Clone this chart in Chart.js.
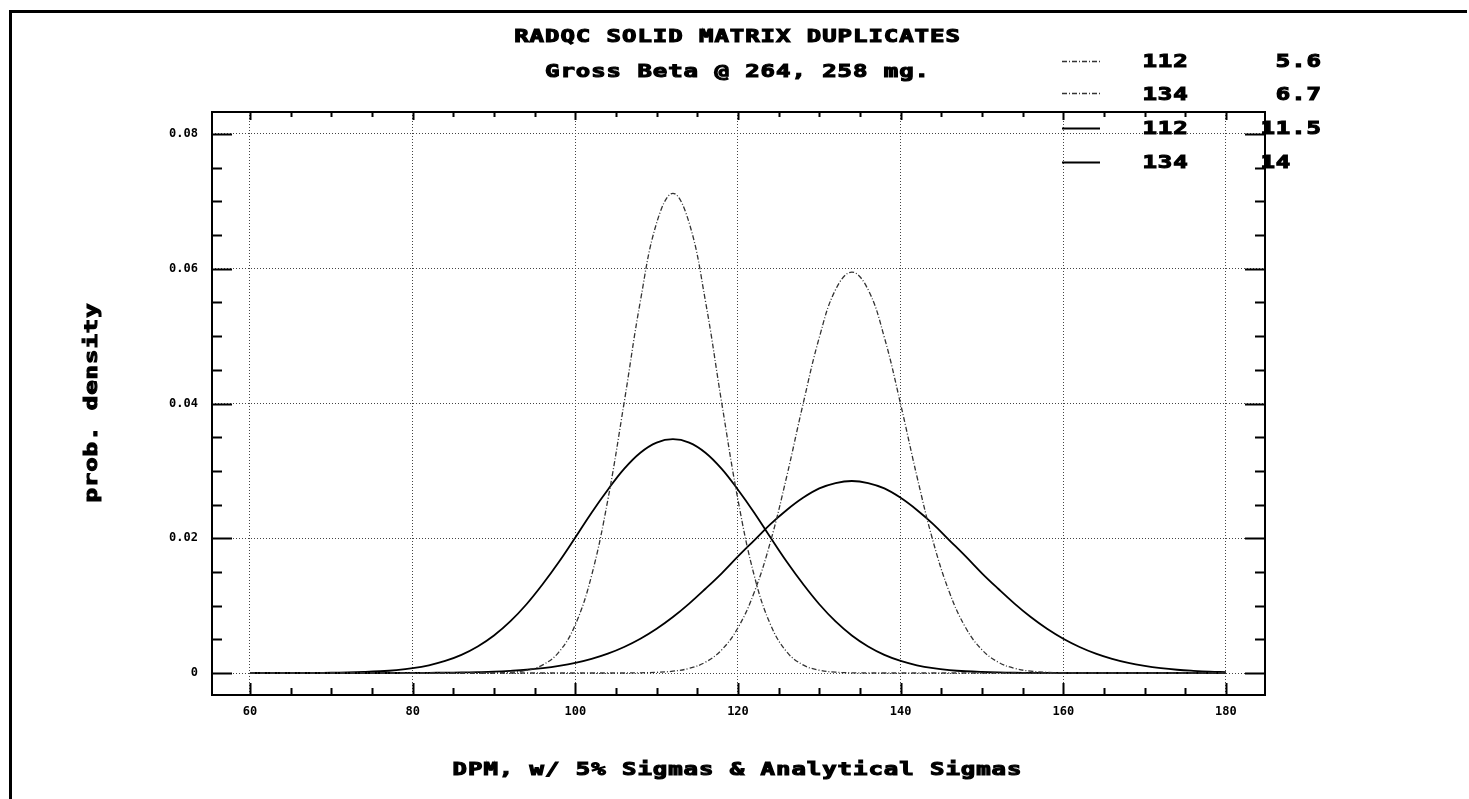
<!DOCTYPE html>
<html>
<head>
<meta charset="utf-8">
<script src="https://cdn.jsdelivr.net/npm/chart.js@4.4.0/dist/chart.umd.min.js"></script>
<style>
html, body { margin: 0; padding: 0; background: #fff; }
canvas { display: block; }
</style>
</head>
<body>
<canvas id="chart" width="1469" height="799"></canvas>
<script>
// x values (DPM)
const dpm = [60, 62, 64, 66, 68, 70, 72, 74, 76, 78, 80, 82, 84, 86, 88, 90, 92, 94, 96, 98,
  100, 102, 104, 106, 108, 110, 112, 114, 116, 118, 120, 122, 124, 126, 128, 130, 132, 134, 136, 138,
  140, 142, 144, 146, 148, 150, 152, 154, 156, 158, 160, 162, 164, 166, 168, 170, 172, 174, 176, 178, 180];

// prob. density
const narrow112 = [0, 0, 0, 0, 0, 0, 0, 0, 0, 0, 0, 0, 0, 0, 0,
  0.00003, 0.00012, 0.00041, 0.0012, 0.00313, 0.00717, 0.01446, 0.0257, 0.0401, 0.0552, 0.0668, 0.0712,
  0.0668, 0.0552, 0.0401, 0.0257, 0.01446, 0.00717, 0.00313, 0.0012, 0.00041, 0.00012, 0.00003,
  0, 0, 0, 0, 0, 0, 0, 0, 0, 0, 0, 0, 0, 0, 0, 0, 0, 0, 0, 0, 0, 0, 0];
const narrow134 = [0, 0, 0, 0, 0, 0, 0, 0, 0, 0, 0, 0, 0, 0, 0, 0, 0, 0, 0, 0, 0, 0, 0, 0,
  0.00003, 0.0001, 0.00027, 0.00069, 0.00161, 0.00344, 0.00671, 0.01197, 0.0195, 0.0292, 0.0399, 0.0498, 0.0569, 0.0595,
  0.0569, 0.0498, 0.0399, 0.0292, 0.0195, 0.01197, 0.00671, 0.00344, 0.00161, 0.00069, 0.00027, 0.0001, 0.00003,
  0, 0, 0, 0, 0, 0, 0, 0, 0, 0];
const wide112 = [0, 0, 0,
  0.00001, 0.00002, 0.00004, 0.00008, 0.00015, 0.00026, 0.00044, 0.00072, 0.00115, 0.00179, 0.00269, 0.00393,
  0.00556, 0.00765, 0.0102, 0.0132, 0.0165, 0.0201, 0.0238, 0.0272, 0.0303, 0.0327, 0.0342, 0.0347,
  0.0342, 0.0327, 0.0303, 0.0272, 0.0238, 0.0201, 0.0165, 0.0132, 0.0102, 0.00765, 0.00556, 0.00393,
  0.00269, 0.00179, 0.00115, 0.00072, 0.00044, 0.00026, 0.00015, 0.00008, 0.00004, 0.00002, 0.00001,
  0, 0, 0, 0, 0, 0, 0, 0, 0, 0, 0];
const wide134 = [0, 0, 0, 0, 0, 0, 0, 0, 0, 0,
  0.00002, 0.00003, 0.00005, 0.00008, 0.00013, 0.0002, 0.00032, 0.00048, 0.00072, 0.00105, 0.00149, 0.00209,
  0.00287, 0.00386, 0.00508, 0.00656, 0.0083, 0.0103, 0.0125, 0.0148, 0.0173, 0.0197, 0.0221, 0.0242,
  0.026, 0.0274, 0.0282, 0.0285,
  0.0282, 0.0274, 0.026, 0.0242, 0.0221, 0.0197, 0.0173, 0.0148, 0.0125, 0.0103, 0.0083, 0.00656,
  0.00508, 0.00386, 0.00287, 0.00209, 0.00149, 0.00105, 0.00072, 0.00048, 0.00032, 0.0002, 0.00013];

// legend columns
const legendMeans = ['112', '134', '112', '134'];
const legendSigmas = ['5.6', '6.7', '11.5', '14'];

// axes
const xTickValues = [60, 80, 100, 120, 140, 160, 180];
const yTickValues = [0, 0.02, 0.04, 0.06, 0.08];
const yTickLabels = ['0', '0.02', '0.04', '0.06', '0.08'];

const titleText = 'RADQC SOLID MATRIX DUPLICATES';
const subtitleText = 'Gross Beta @ 264, 258 mg.';
const xTitle = 'DPM, w/ 5% Sigmas & Analytical Sigmas';
const yTitle = 'prob. density';

const MONO = '"DejaVu Sans Mono", "Liberation Mono", monospace';
const dotted = [5, 2, 1, 2];

function toPoints(values) {
  return dpm.map((x, i) => ({ x: x, y: values[i] }));
}

// draw text one glyph at a time so it looks like the old plotter font
function wideText(ctx, text, x, y, align) {
  const adv = 15.4;
  ctx.save();
  ctx.font = 'bold 16px ' + MONO;
  ctx.textAlign = 'center';
  ctx.textBaseline = 'alphabetic';
  ctx.fillStyle = '#000';
  ctx.strokeStyle = '#000';
  ctx.lineWidth = 1;
  let start = x + 6.6;
  if (align === 'center') start = x - adv * (text.length - 1) / 2;
  for (let i = 0; i < text.length; i++) {
    ctx.save();
    ctx.translate(start + i * adv, y);
    ctx.scale(1.5, 1.05);
    ctx.fillText(text[i], 0, 0);
    ctx.strokeText(text[i], 0, 0);
    ctx.restore();
  }
  ctx.restore();
}

const framePlugin = {
  id: 'frame',
  afterDraw(chart) {
    const { ctx, chartArea: a } = chart;
    const xs = chart.scales.x, ys = chart.scales.y;
    ctx.save();
    ctx.strokeStyle = '#000';
    ctx.fillStyle = '#000';
    ctx.lineWidth = 2;
    ctx.strokeRect(a.left, a.top, a.right - a.left, a.bottom - a.top);

    // inward tick marks
    ctx.beginPath();
    for (let v = 0; v <= 0.0801; v += 0.005) {
      const py = Math.round(ys.getPixelForValue(v)) + 0.5;
      const major = Math.abs(v / 0.02 - Math.round(v / 0.02)) < 1e-6;
      const len = major ? 20 : 10;
      ctx.moveTo(a.left, py); ctx.lineTo(a.left + len, py);
      ctx.moveTo(a.right, py); ctx.lineTo(a.right - len, py);
    }
    for (let v = 60; v <= 180; v += 5) {
      const px = Math.round(xs.getPixelForValue(v)) + 0.5;
      const major = v % 20 === 0;
      ctx.moveTo(px, a.bottom); ctx.lineTo(px, a.bottom - (major ? 12 : 7));
      ctx.moveTo(px, a.top); ctx.lineTo(px, a.top + (major ? 8 : 5));
    }
    ctx.stroke();

    // page border
    ctx.fillRect(9, 10, 3, 789);
    ctx.fillRect(9, 10, 1458, 3);

    // titles
    wideText(ctx, titleText, 737, 42, 'center');
    wideText(ctx, subtitleText, 737, 77, 'center');
    wideText(ctx, xTitle, 737, 775, 'center');
    ctx.save();
    ctx.translate(97, 403);
    ctx.rotate(-Math.PI / 2);
    wideText(ctx, yTitle, 0, 0, 'center');
    ctx.restore();

    // legend
    const rowBase = [67, 100, 134, 168];
    const rowLine = [61, 93, 128, 162];
    chart.data.datasets.forEach((ds, i) => {
      ctx.save();
      ctx.strokeStyle = ds.borderColor;
      ctx.lineWidth = ds.borderWidth;
      ctx.setLineDash(ds.borderDash || []);
      ctx.beginPath();
      ctx.moveTo(1062, rowLine[i] + 0.5);
      ctx.lineTo(1100, rowLine[i] + 0.5);
      ctx.stroke();
      ctx.restore();
      wideText(ctx, legendMeans[i], 1143, rowBase[i], 'left');
      const s = legendSigmas[i];
      wideText(ctx, s.indexOf('.') === 1 ? ' ' + s : s, 1261, rowBase[i], 'left');
    });
    ctx.restore();
  }
};

const tickFont = { family: MONO, size: 12, weight: 'bold' };

new Chart(document.getElementById('chart').getContext('2d'), {
  type: 'line',
  data: {
    datasets: [{
      label: '112 5.6',
      data: toPoints(narrow112),
      borderColor: '#333',
      borderWidth: 1.3,
      borderDash: dotted
    }, {
      label: '134 6.7',
      data: toPoints(narrow134),
      borderColor: '#333',
      borderWidth: 1.3,
      borderDash: dotted
    }, {
      label: '112 11.5',
      data: toPoints(wide112),
      borderColor: '#000',
      borderWidth: 1.8
    }, {
      label: '134 14',
      data: toPoints(wide134),
      borderColor: '#000',
      borderWidth: 1.8
    }]
  },
  options: {
    responsive: false,
    animation: false,
    elements: {
      point: { radius: 0 },
      line: { tension: 0.4, fill: false }
    },
    layout: { padding: { top: 112, right: 204, left: 0, bottom: 0 } },
    plugins: {
      legend: { display: false },
      title: { display: false },
      tooltip: { enabled: false }
    },
    scales: {
      x: {
        type: 'linear',
        min: 55.33,
        max: 184.8,
        afterBuildTicks: s => { s.ticks = xTickValues.map(v => ({ value: v })); },
        afterFit: s => { s.height = 104; },
        grid: { color: '#444', lineWidth: 1, drawTicks: false },
        border: { display: false, dash: [1, 2] },
        ticks: {
          font: tickFont, color: '#000', padding: 10,
          maxRotation: 0, autoSkip: false,
          callback: v => String(v)
        }
      },
      y: {
        type: 'linear',
        min: -0.003265,
        max: 0.083265,
        afterBuildTicks: s => { s.ticks = yTickValues.map(v => ({ value: v })); },
        afterFit: s => { s.width = 212; },
        grid: { color: '#444', lineWidth: 1, drawTicks: false },
        border: { display: false, dash: [1, 2] },
        ticks: {
          font: tickFont, color: '#000', padding: 14, autoSkip: false,
          callback: v => yTickLabels[yTickValues.indexOf(v)]
        }
      }
    }
  },
  plugins: [framePlugin]
});
</script>
</body>
</html>
